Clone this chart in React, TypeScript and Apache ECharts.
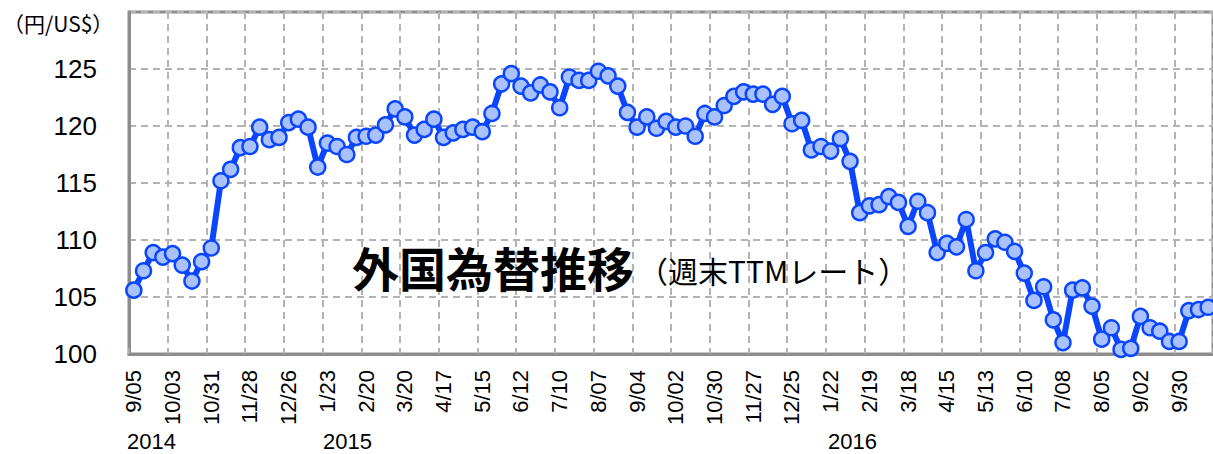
import React, { useEffect, useRef } from "react";
import * as echarts from "echarts";

// Weekly dates (Fridays), Sep 2014 – Oct 2016
const dates2014 = ["9/05","9/12","9/19","9/26","10/03","10/10","10/17","10/24","10/31","11/07","11/14","11/21","11/28","12/05","12/12","12/19","12/26"];
const dates2015 = ["1/02","1/09","1/16","1/23","1/30","2/06","2/13","2/20","2/27","3/06","3/13","3/20","3/27","4/03","4/10","4/17","4/24","5/01","5/08","5/15","5/22","5/29","6/05","6/12","6/19","6/26","7/03","7/10","7/17","7/24","7/31","8/07","8/14","8/21","8/28","9/04","9/11","9/18","9/25","10/02","10/09","10/16","10/23","10/30","11/06","11/13","11/20","11/27","12/04","12/11","12/18","12/25"];
const dates2016 = ["1/01","1/08","1/15","1/22","1/29","2/05","2/12","2/19","2/26","3/04","3/11","3/18","3/25","4/01","4/08","4/15","4/22","4/29","5/06","5/13","5/20","5/27","6/03","6/10","6/17","6/24","7/01","7/08","7/15","7/22","7/29","8/05","8/12","8/19","8/26","9/02","9/09","9/16","9/23","9/30","10/07","10/14","10/21"];

// USD/JPY weekly TTM rate (円/US$)
const rates2014 = [105.6,107.3,108.9,108.5,108.8,107.8,106.4,108.1,109.3,115.2,116.2,118.1,118.2,119.9,118.8,119.0,120.3];
const rates2015 = [120.6,119.9,116.4,118.5,118.2,117.5,119.0,119.1,119.2,120.1,121.5,120.8,119.2,119.7,120.6,119.0,119.4,119.7,119.9,119.5,121.1,123.7,124.6,123.5,122.9,123.6,123.0,121.6,124.3,124.0,124.0,124.8,124.4,123.5,121.2,119.9,120.8,119.8,120.4,119.9,120.0,119.1,121.1,120.8,121.8,122.6,123.0,122.8,122.8,121.9,122.6,120.2];
const rates2016 = [120.5,117.9,118.2,117.8,118.9,116.9,112.4,113.0,113.1,113.8,113.3,111.2,113.4,112.4,108.9,109.7,109.4,111.8,107.3,108.9,110.1,109.8,109.0,107.1,104.7,105.9,103.0,101.0,105.6,105.8,104.2,101.3,102.3,100.4,100.5,103.3,102.3,102.0,101.1,101.1,103.8,103.9,104.1];

const categories = [...dates2014, ...dates2015, ...dates2016];
const rates = [...rates2014, ...rates2015, ...rates2016];

const yearLabels = ["2014", "2015", "2016"];
const unitLabel = "（円/US$）";
const titleMain = "外国為替推移";
const titleSub = "（週末TTMレート）";

const LINE = "#0a46ff";
const GRID = "#b3b3b3";
const FRAME = "#8c8c8c";

export default function App() {
  const ref = useRef<HTMLDivElement>(null);
  useEffect(() => {
    if (!ref.current) return;
    const chart = echarts.init(ref.current, null, { renderer: "svg" });
    const catW = 9.77;
    chart.setOption({
      animation: false,
      backgroundColor: "#ffffff",
      grid: {
        left: 129,
        top: 12,
        width: catW * categories.length,
        height: 342,
        show: true,
        borderColor: FRAME,
        borderWidth: 3,
        backgroundColor: "transparent",
      },
      xAxis: {
        type: "category",
        data: categories,
        boundaryGap: true,
        axisLine: { show: true, lineStyle: { color: FRAME, width: 3 } },
        axisTick: { show: true, inside: true, interval: 3, length: 6, lineStyle: { color: GRID, width: 1.5 } },
        axisLabel: {
          interval: 3,
          rotate: 90,
          margin: 16,
          fontSize: 22,
          color: "#000",
          fontFamily: "Liberation Sans, Arial, sans-serif",
        },
        splitLine: { show: true, interval: 3, lineStyle: { color: GRID, width: 2, type: [7, 5] } },
      },
      yAxis: {
        type: "value",
        min: 100,
        max: 130,
        interval: 5,
        axisLine: { show: true, lineStyle: { color: FRAME, width: 3 } },
        axisTick: { show: false },
        axisLabel: {
          margin: 32,
          fontSize: 26,
          color: "#000",
          fontFamily: "Liberation Sans, Arial, sans-serif",
          formatter: (v: number) => (v >= 130 ? "" : String(v)),
        },
        splitLine: { show: true, lineStyle: { color: GRID, width: 2, type: [7, 5] } },
      },
      series: [
        {
          type: "line",
          data: rates,
          symbol: "circle",
          symbolSize: 15,
          showAllSymbol: true,
          lineStyle: { color: LINE, width: 6 },
          itemStyle: { color: "#a9c1ff", borderColor: LINE, borderWidth: 2.5 },
          z: 5,
        },
      ],
      graphic: [
        {
          type: "text",
          x: 3,
          y: 23,
          style: { text: unitLabel, fontSize: 21, fill: "#000", fontFamily: "Noto Sans CJK JP", textVerticalAlign: "middle" },
        },
        {
          type: "text",
          x: 352,
          y: 266,
          style: {
            text: titleMain,
            fontSize: 47,
            fontWeight: "bold",
            fill: "#000",
            fontFamily: "Noto Sans CJK JP",
            textVerticalAlign: "middle",
          },
          z: 10,
        },
        {
          type: "text",
          x: 638,
          y: 270,
          style: {
            text: titleSub,
            fontSize: 30,
            fill: "#000",
            fontFamily: "Noto Sans CJK JP",
            textVerticalAlign: "middle",
          },
          z: 10,
        },
        ...yearLabels.map((t, i) => ({
          type: "text",
          x: [127, 323, 828][i],
          y: 441,
          style: {
            text: t,
            fontSize: 22,
            fill: "#000",
            fontFamily: "Liberation Sans, Arial, sans-serif",
            textVerticalAlign: "middle",
          },
        })),
      ],
    });
    return () => chart.dispose();
  }, []);
  return (
    <div
      ref={ref}
      style={{ position: "fixed", left: 0, top: 0, width: 1213, height: 454, background: "#fff" }}
    />
  );
}
